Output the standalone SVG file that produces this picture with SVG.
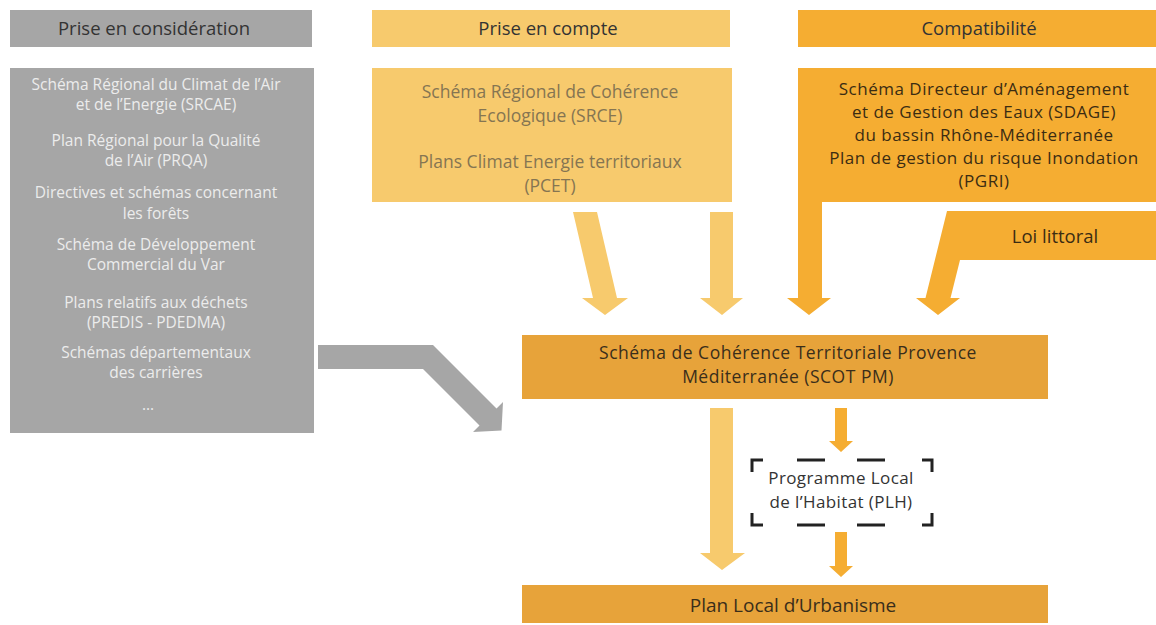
<svg xmlns="http://www.w3.org/2000/svg" width="1156" height="625" viewBox="0 0 1156 625">
<style>
text{font-family:"Open Sans","Noto Sans","Liberation Sans",sans-serif;text-anchor:middle}
.gray{fill:#a6a6a6}
.light{fill:#f7ca6d}
.dark{fill:#f5ad32}
.core{fill:#e7a33a}
.hd{font-size:18.5px;fill:#333333}
.gt{font-size:15.5px;fill:#ececec}
.lt{font-size:17.5px;fill:#857552}
.ct{font-size:17px;letter-spacing:0.5px;fill:#3b2c12}
.lo{font-size:18.5px;fill:#3b2c12}
.st{font-size:17.5px;letter-spacing:0.5px;fill:#3a2e1a}
.pl{font-size:19px;fill:#3a2e1a}
.pt{font-size:17px;letter-spacing:0.4px;fill:#333333}
</style>
<rect width="1156" height="625" fill="#ffffff"/>
<g id="connectors">
  <polygon class="gray" points="318,345 433,345 496.5,408.5 503,402 501.5,430.5 473,432 479.5,425.5 423,369 318,369"/>
  <polygon class="light" points="573,212 597,212 617,298 628,298 605,315 582,298 593,298"/>
  <polygon class="light" points="710,212 733,212 733,298 743,298 722,315 700,298 710,298"/>
  <polygon class="dark" points="798,202 822,202 822,298 831,298 809,315 787,298 798,298"/>
  <polygon class="light" points="710,408 733,408 733,553 745,553 722,570 700,553 710,553"/>
  <polygon class="dark" points="835,408 847,408 847,441 853,441 841,452 829,441 835,441"/>
  <polygon class="dark" points="835,532 847,532 847,566 853,566 841,577 829,566 835,566"/>
</g>
<g id="n-consideration-header">
  <rect class="gray" x="10" y="10" width="302" height="37"/>
  <text class="hd" x="154" y="35">Prise en considération</text>
</g>
<g id="n-consideration-body">
  <rect class="gray" x="10" y="68" width="304" height="365"/>
  <text class="gt" x="156" y="90">Schéma Régional du Climat de l’Air</text>
  <text class="gt" x="156" y="110">et de l’Energie  (SRCAE)</text>
  <text class="gt" x="156" y="146">Plan Régional pour la Qualité</text>
  <text class="gt" x="156" y="166">de l’Air (PRQA)</text>
  <text class="gt" x="156" y="198">Directives et schémas concernant</text>
  <text class="gt" x="156" y="219">les forêts</text>
  <text class="gt" x="156" y="250">Schéma de Développement</text>
  <text class="gt" x="156" y="270">Commercial du Var</text>
  <text class="gt" x="156" y="308">Plans relatifs aux déchets</text>
  <text class="gt" x="156" y="328">(PREDIS - PDEDMA)</text>
  <text class="gt" x="156" y="358">Schémas départementaux</text>
  <text class="gt" x="156" y="378">des carrières</text>
  <text class="gt" x="148" y="410">…</text>
</g>
<g id="n-compte-header">
  <rect class="light" x="372" y="10" width="358" height="37"/>
  <text class="hd" x="548" y="35">Prise en compte</text>
</g>
<g id="n-compte-body">
  <rect class="light" x="372" y="68" width="360" height="134"/>
  <text class="lt" x="550" y="98">Schéma Régional de Cohérence</text>
  <text class="lt" x="550" y="122">Ecologique (SRCE)</text>
  <text class="lt" x="550" y="168">Plans Climat Energie territoriaux</text>
  <text class="lt" x="550" y="192">(PCET)</text>
</g>
<g id="n-compat-header">
  <rect class="dark" x="798" y="10" width="358" height="37"/>
  <text class="hd" x="979" y="35">Compatibilité</text>
</g>
<g id="n-compat-body">
  <rect class="dark" x="798" y="68" width="358" height="134"/>
  <text class="ct" x="984" y="95">Schéma Directeur d’Aménagement</text>
  <text class="ct" x="984" y="118">et de Gestion des Eaux (SDAGE)</text>
  <text class="ct" x="984" y="141">du bassin Rhône-Méditerranée</text>
  <text class="ct" x="984" y="164">Plan de gestion du risque Inondation</text>
  <text class="ct" x="984" y="187">(PGRI)</text>
</g>
<g id="n-loi-littoral">
  <polygon class="dark" points="947,211 1156,211 1156,260 960,260 950.5,298 960,298 938,315 916,298 925.5,298"/>
  <text class="lo" x="1055" y="243">Loi littoral</text>
</g>
<g id="n-scot">
  <rect class="core" x="522" y="335" width="526" height="64"/>
  <text class="st" x="788" y="359">Schéma de Cohérence Territoriale Provence</text>
  <text class="st" x="788" y="383">Méditerranée (SCOT PM)</text>
</g>
<g id="n-plh">
  <path d="M752,472 V460 H763 M797,460 H825 M857,460 H885 M922,460 H932 V472 M752,513 V525 H763 M797,525 H825 M857,525 H885 M922,525 H932 V513" fill="none" stroke="#222222" stroke-width="3"/>
  <text class="pt" x="841" y="484">Programme Local</text>
  <text class="pt" x="841" y="508">de l’Habitat (PLH)</text>
</g>
<g id="n-plu">
  <rect class="core" x="522" y="585" width="526" height="38"/>
  <text class="pl" x="793" y="612">Plan Local d’Urbanisme</text>
</g>
</svg>
